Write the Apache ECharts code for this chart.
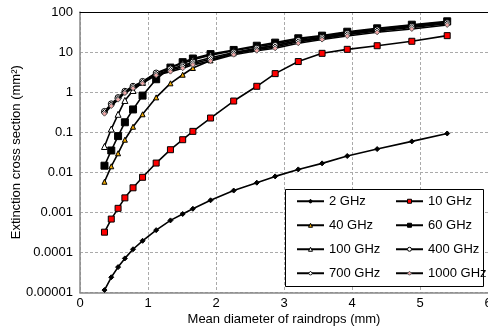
<!DOCTYPE html>
<html><head><meta charset="utf-8">
<script src="https://cdn.jsdelivr.net/npm/echarts@6/dist/echarts.min.js"></script>
<style>html,body{margin:0;padding:0;background:#fff}#c{width:488px;height:332px}</style>
</head><body><div id="c"></div>
<script>
// Mean raindrop diameter (mm)
var diameters = [0.36,0.46,0.56,0.66,0.78,0.92,1.12,1.33,1.51,1.66,1.92,2.26,2.60,2.87,3.21,3.56,3.93,4.37,4.88,5.40];
var seriesNames = ['2 GHz','10 GHz','40 GHz','60 GHz','100 GHz','400 GHz','700 GHz','1000 GHz'];
var ghz2 = [1.15e-5,2.4e-5,4.3e-5,7.1e-5,1.2e-4,1.95e-4,3.6e-4,6.3e-4,9.1e-4,1.23e-3,2.0e-3,3.5e-3,5.5e-3,7.9e-3,0.0118,0.0167,0.0255,0.038,0.059,0.093];
var ghz10 = [3.2e-4,6.8e-4,1.26e-3,2.3e-3,4.1e-3,7.5e-3,0.017,0.0366,0.065,0.105,0.226,0.60,1.4,2.9,5.8,9.3,11.7,14.4,18.6,25.7];
var ghz40 = [0.0058,0.0141,0.0298,0.065,0.137,0.28,0.74,1.66,2.72,4.0,6.2,9.3,12.2,14.6,19.2,23.2,29,36,44,54];
var ghz60 = [0.0146,0.035,0.080,0.177,0.37,0.82,2.1,4.1,5.6,6.9,8.9,11.3,14.4,17.2,22.1,25.7,32.2,39.2,48.2,58.6];
var ghz100 = [0.044,0.12,0.28,0.62,1.1,1.75,3.0,4.2,5.2,6.4,8.4,10.8,13.6,16,20.8,24.8,30.8,37.6,46.4,56.5];
var ghz400 = [0.33,0.51,0.73,1.05,1.4,1.85,3.0,3.8,4.6,5.6,7.2,9.8,12.4,14.6,19.5,23.3,29.2,35.8,43.6,54];
var ghz700 = [0.31,0.48,0.69,1.0,1.32,1.75,2.8,3.5,4.3,5.2,6.6,9.2,11.5,13.4,18,22,27.2,33.6,41,51];
var ghz1000 = [0.29,0.45,0.65,0.95,1.25,1.65,2.65,3.25,3.95,4.8,6.0,8.6,10.8,12.4,16.6,20.5,25.1,31.1,37.7,47.5];
var yTickLabels = ['0.00001','0.0001','0.001','0.01','0.1','1','10','100'];
var xTickLabels = ['0','1','2','3','4','5','6'];

var values = [ghz2,ghz10,ghz40,ghz60,ghz100,ghz400,ghz700,ghz1000];
var styles = [
  {symbol:'diamond', size:5, color:'#000', border:'#000'},
  {symbol:'rect', size:6, color:'#ff0000', border:'#000'},
  {symbol:'triangle', size:5, color:'#f0a800', border:'#000'},
  {symbol:'rect', size:7, color:'#000', border:'#000'},
  {symbol:'triangle', size:6, color:'#fff', border:'#000'},
  {symbol:'circle', size:6, color:'#fff', border:'#000'},
  {symbol:'diamond', size:6, color:'#fff', border:'#000'},
  {symbol:'diamond', size:5, color:'#f0a8a8', border:'#555'}
];
var FONT = 'Liberation Sans, Arial, sans-serif';
var series = seriesNames.map(function(n,i){
  return {
    name:n, type:'line', data: diameters.map(function(d,j){return [d, values[i][j]];}),
    symbol: styles[i].symbol, symbolSize: styles[i].size, showAllSymbol:true,
    lineStyle:{color:'#000', width:1.6},
    itemStyle:{color:styles[i].color, borderColor:styles[i].border, borderWidth:1},
    emphasis:{disabled:true}, animation:false, z: 2+i*0.01
  };
});
var chart = echarts.init(document.getElementById('c'), null, {renderer:'canvas'});
var legendCommon = {orient:'vertical', itemWidth:27, itemHeight:5, itemGap:10.5, z:10, padding:0,
  itemStyle:{borderWidth:1},
  textStyle:{fontFamily:FONT, fontSize:13, color:'#000', lineHeight:13.5}, selectedMode:false};
chart.setOption({
  animation:false,
  grid:{left:80, right:0, top:12, bottom:39.5, containLabel:false, outerBoundsMode:'none'},
  xAxis:[{type:'value', min:0, max:6, interval:1,
    name:'Mean diameter of raindrops (mm)', nameLocation:'middle', nameGap:20, nameMoveOverlap:false,
    nameTextStyle:{fontFamily:FONT, fontSize:13, color:'#000'},
    axisLine:{lineStyle:{color:'#888', width:1.5}}, axisTick:{show:false},
    axisLabel:{fontFamily:FONT, fontSize:13, color:'#000', margin:4, formatter:function(v){return xTickLabels[Math.round(v)];}},
    splitLine:{show:true, lineStyle:{color:'#aaa', type:[3,2], width:1}}},
    {type:'value', min:0, max:6, position:'top', axisLine:{show:true, lineStyle:{color:'#000', width:1}}, axisTick:{show:false}, axisLabel:{show:false}, splitLine:{show:false}}],
  yAxis:{type:'log', logBase:10, min:0.00001, max:100,
    name:'Extinction cross section (mm²)', nameLocation:'middle', nameGap:57, nameMoveOverlap:false,
    nameTextStyle:{fontFamily:FONT, fontSize:13, color:'#000'},
    axisLine:{show:true, lineStyle:{color:'#888', width:1.5}}, axisTick:{show:false},
    axisLabel:{fontFamily:FONT, fontSize:13, color:'#000', margin:7, formatter:function(v){return yTickLabels[Math.round(Math.log10(v))+5];}},
    splitLine:{show:true, lineStyle:{color:'#aaa', type:[3,2], width:1}}, minorSplitLine:{show:false}},
  legend:[
    Object.assign({}, legendCommon, {left:296, top:194.5, data:['2 GHz','40 GHz','100 GHz','700 GHz']}),
    Object.assign({}, legendCommon, {left:395, top:194.5, data:['10 GHz','60 GHz','400 GHz','1000 GHz']})
  ],
  graphic:[{type:'rect', z:5, shape:{x:285.5, y:189.5, width:198, height:97}, style:{fill:'#fff', stroke:'#000', lineWidth:1}}],
  series: series
});
</script></body></html>
